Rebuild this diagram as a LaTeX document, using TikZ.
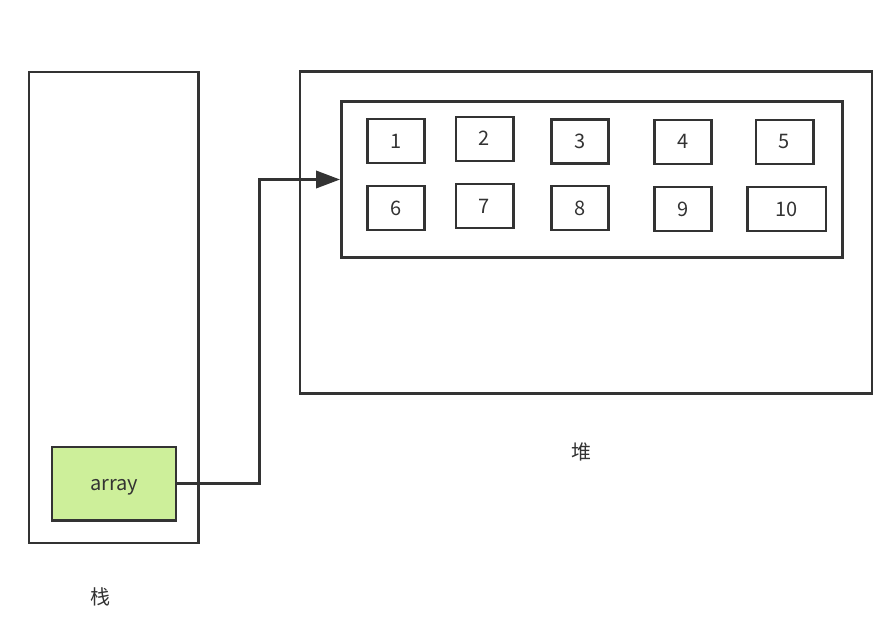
\documentclass[tikz,border=0pt]{standalone}
\definecolor{mLine}{HTML}{333333}
\definecolor{mGreen}{HTML}{CDEF9A}
\usepackage{fontspec}
\setmainfont{Noto Sans CJK SC}
\usepackage{tikz}
\usetikzlibrary{positioning,arrows.meta,calc}

\begin{document}
\begin{tikzpicture}[x=0.75pt,y=-0.75pt,font=\fontsize{15}{17}\selectfont,
  frame/.style={draw=mLine, line width=2pt, inner sep=0pt},
  cell/.style={frame, minimum height=33pt, text=mLine, text height=10.5pt, text depth=0pt}]
\useasboundingbox (0,0) rectangle (895,624);
% stack
\node[frame, minimum width=127pt, minimum height=353pt] (stack) at (113.5,307.5) {};
\node[text=mLine] (stacklbl) at (100,597) {栈};
\node[cell, fill=mGreen, minimum width=93pt, minimum height=55pt] (arr) at (114,483.5) {array};
% heap
\node[frame, minimum width=429pt, minimum height=241pt] (heap) at (586,232.5) {};
\node[frame, minimum width=376pt, minimum height=117pt] (heapin) at (592,179.5) {};
\node[text=mLine] (heaplbl) at (581,452) {堆};
% cells
\foreach \n/\x/\y/\w in {1/396/141/43, 2/484.5/139/43, 3/580/141.5/43, 4/683/142/43, 5/784.5/142/43,
  6/396/208/43, 7/484.5/206/43, 8/580/208/43, 9/683/209/43, 10/786.5/209/59}
  \node[cell, minimum width=\w pt] (c\n) at (\x,\y) {\n};
% reference
\draw[mLine, line width=2pt, -{Triangle[length=18pt,width=13pt]}] (arr.east) -- ++(82,0) |- (heapin.west);
\end{tikzpicture}
\end{document}
